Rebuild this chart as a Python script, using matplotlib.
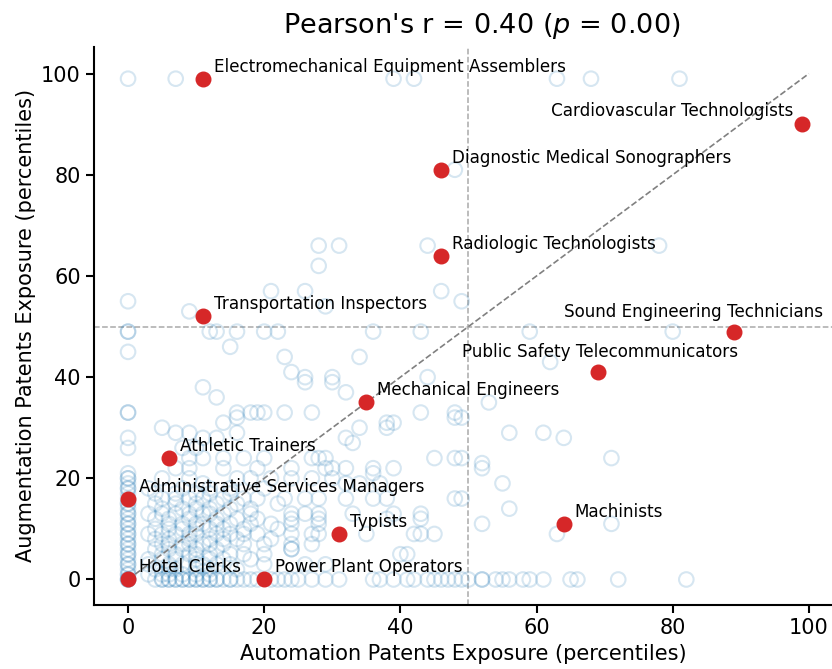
#!/usr/bin/python

import matplotlib
matplotlib.use('Agg')
import matplotlib.pyplot as plt

# highlighted occupations (automation pct, augmentation pct)
ocupaciones = ['Electromechanical Equipment Assemblers', 'Cardiovascular Technologists',
               'Diagnostic Medical Sonographers', 'Radiologic Technologists',
               'Transportation Inspectors', 'Sound Engineering Technicians',
               'Public Safety Telecommunicators', 'Mechanical Engineers',
               'Athletic Trainers', 'Administrative Services Managers', 'Typists',
               'Machinists', 'Hotel Clerks', 'Power Plant Operators']
auto_sel = [11, 99, 46, 46, 11, 89, 69, 35, 6, 0, 31, 64, 0, 20]
aug_sel = [99, 90, 81, 64, 52, 49, 41, 35, 24, 16, 9, 11, 0, 0]

# the rest of the occupations: one augmentation value per row, with the
# automation values of the occupations sitting on that row
filas_y = [99, 81, 66, 62, 57, 55, 54, 53, 49, 46, 45, 44, 43, 41, 40, 39, 38,
           37, 36, 35, 33, 32, 31, 30, 29, 28, 27, 26, 24, 23, 22, 21, 20, 19,
           18, 17, 16, 15, 14, 13, 12, 11, 10, 9, 8, 7, 6, 5, 4, 3, 2, 1, 0]
filas_x = [
    [0, 7, 39, 42, 63, 68, 81],
    [48],
    [28, 31, 44, 78],
    [28],
    [21, 26, 46],
    [0, 49],
    [29],
    [9],
    [0, 0, 12, 13, 16, 20, 22, 36, 43, 59, 80],
    [15],
    [0],
    [23, 34],
    [62],
    [24],
    [26, 30, 44],
    [26, 30],
    [11],
    [32],
    [13],
    [53],
    [0, 0, 16, 18, 19, 20, 23, 27, 43, 48],
    [49, 48, 16],
    [14, 38, 39],
    [5, 34, 38],
    [7, 9, 16, 56, 61],
    [0, 11, 13, 32, 64],
    [33],
    [0, 8, 10],
    [9, 11, 14, 17, 20, 27, 28, 29, 45, 48, 49, 71],
    [52],
    [7, 9, 14, 19, 24, 29, 30, 32, 36, 39, 52],
    [0, 36],
    [0, 0, 5, 9, 16, 18, 21, 24, 27, 30],
    [0, 32, 34, 37, 55, 11],
    [0, 0, 3, 8, 12, 20, 15],
    [0, 7, 10, 15, 4, 12],
    [0, 5, 7, 9, 11, 14, 17, 19, 23, 26, 28, 32, 36, 38, 48, 49],
    [0, 0, 4, 10, 13, 22, 7, 16],
    [0, 8, 12, 18, 56, 5, 10, 15],
    [0, 0, 3, 5, 7, 9, 11, 14, 18, 24, 26, 28, 33, 39, 43, 12],
    [0, 6, 16, 19, 24, 28, 38, 43, 4, 9, 13],
    [0, 0, 8, 10, 13, 15, 18, 21, 24, 28, 52, 71, 6, 11],
    [0, 4, 6, 12, 17, 22, 8, 10, 14],
    [0, 0, 3, 5, 7, 10, 13, 15, 19, 24, 27, 28, 35, 42, 43, 45, 63, 9, 17],
    [0, 9, 12, 16, 21, 4, 6, 14],
    [0, 0, 6, 9, 11, 14, 17, 20, 27, 5, 8, 12, 24],
    [0, 4, 8, 13, 24, 24, 10, 6],
    [0, 0, 7, 9, 12, 15, 17, 20, 40, 41, 5, 10],
    [0, 5, 10, 14, 18, 7, 12, 3],
    [0, 0, 3, 6, 8, 11, 13, 15, 20, 26, 29, 10],
    [0, 4, 7, 10, 16, 6, 12],
    [0, 0, 3, 5, 8, 12, 6, 10],
    [0, 0, 0, 4, 5, 5, 6, 6, 7, 7, 8, 8, 9, 9, 10, 10, 11, 11, 12, 12, 13, 13,
     14, 15, 15, 16, 17, 18, 19, 21, 22, 23, 24, 25, 27, 29, 31, 36, 37, 39, 41,
     42, 44, 45, 46, 47, 48, 49, 50, 52, 52, 54, 55, 56, 58, 59, 61, 65, 66, 72, 82],
]

pearson_r = 0.40
p_valor = 0.00

# label placement: (dx, dy) in pixels and horizontal alignment
desplazamientos = {
    'Cardiovascular Technologists': (-9, 13, 'right'),
    'Sound Engineering Technicians': (-40, 20, 'center'),
    'Public Safety Telecommunicators': (2, 20, 'center'),
}


def main():
    bg_x = []
    bg_y = []
    for y, xs in zip(filas_y, filas_x):
        bg_x.extend(xs)
        bg_y.extend([y] * len(xs))

    fig = plt.figure(figsize=(8.32, 6.69), dpi=100)
    ax = fig.add_axes([0.113, 0.096, 0.887, 0.834])

    ax.scatter(bg_x, bg_y, s=110, facecolors='none', edgecolors='#1f77b4',
               linewidths=1.5, alpha=0.18, zorder=2)
    ax.scatter(auto_sel, aug_sel, s=110, color='#d62728', zorder=4)

    for nombre, x, y in zip(ocupaciones, auto_sel, aug_sel):
        dx, dy, ha = desplazamientos.get(nombre, (11, 12, 'left'))
        ax.annotate(nombre, (x, y), xytext=(dx, dy), textcoords='offset pixels',
                    ha=ha, va='center', fontsize=12.1, zorder=5)

    ax.plot([0, 100], [0, 100], linestyle='--', color='gray', linewidth=1.2, zorder=3)
    ax.axvline(50, linestyle='--', color='darkgray', linewidth=1.1, zorder=1)
    ax.axhline(50, linestyle='--', color='darkgray', linewidth=1.1, zorder=1)

    ax.set_xlim(-5, 103.4)
    ax.set_ylim(-5, 105.3)
    ax.set_xticks([0, 20, 40, 60, 80, 100])
    ax.set_yticks([0, 20, 40, 60, 80, 100])
    ax.tick_params(labelsize=15, width=1.5, length=6)
    for lado in ['top', 'right']:
        ax.spines[lado].set_visible(False)
    for lado in ['left', 'bottom']:
        ax.spines[lado].set_linewidth(1.5)

    ax.set_xlabel('Automation Patents Exposure (percentiles)', fontsize=15)
    ax.set_ylabel('Augmentation Patents Exposure (percentiles)', fontsize=15)
    ax.set_title(f"Pearson's r = {pearson_r:.2f} ($p$ = {p_valor:.2f})",
                 fontsize=19.5, x=0.526, pad=10)

    fig.savefig('out.png', dpi=100)


if __name__ == '__main__':
    main()
